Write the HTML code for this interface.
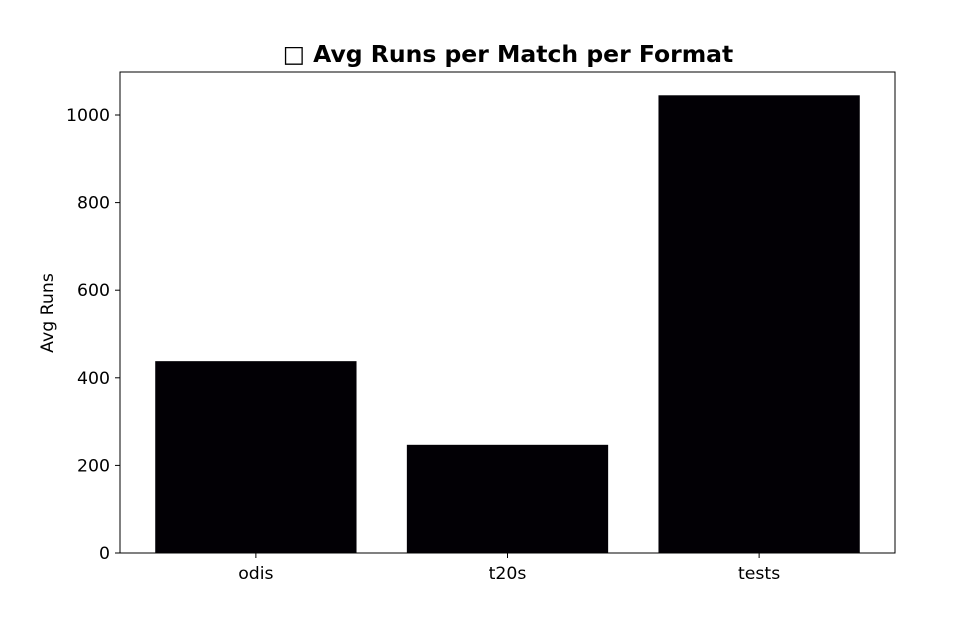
<!DOCTYPE html>
<html><head><meta charset="utf-8"><style>
body{margin:0;background:#fff}
svg{display:block;font-family:"DejaVu Sans","Liberation Sans",sans-serif}
</style></head><body>
<svg id="chart" width="971" height="622">
<text x="508" y="62" text-anchor="middle" font-size="23.5" font-weight="bold">□ Avg Runs per Match per Format</text>
<text transform="translate(53,313) rotate(-90)" text-anchor="middle" font-size="17.3">Avg Runs</text>
<g id="bars"></g><g id="yticks"></g><g id="xticks"></g>
<rect x="120" y="72" width="775" height="481" fill="none" stroke="#000" stroke-width="1"/>
</svg>
<script>
const categories=["odis","t20s","tests"];
const values=[438,247,1045];
const yTicks=[0,200,400,600,800,1000];
const L=120,R=895,T=72,B=553;
const xs=i=>L+(i+0.54)/3.08*(R-L);
const ys=v=>B-v*0.438;
const NS="http://www.w3.org/2000/svg";
const mk=(g,t,a)=>{const e=document.createElementNS(NS,t);for(const k in a)e.setAttribute(k,a[k]);document.getElementById(g).appendChild(e);return e;};
const bw=0.8/3.08*(R-L);
categories.forEach((c,i)=>{
 const r=mk("bars","rect",{x:xs(i)-bw/2,y:ys(values[i]),width:bw,height:B-ys(values[i]),fill:"#020005"});
 
 
 const tk=mk("xticks","line",{x1:xs(i),x2:xs(i),y1:B,y2:B+5,stroke:"#000"});
 
 
 const t=mk("xticks","text",{x:xs(i),y:B+26,"text-anchor":"middle","font-size":"17.3"});
 t.textContent=c;
 
 
});
yTicks.forEach(v=>{
 const tk=mk("yticks","line",{x1:L-5,x2:L,y1:ys(v),y2:ys(v),stroke:"#000"});
 
 
 const t=mk("yticks","text",{x:L-10,y:ys(v)+6,"text-anchor":"end","font-size":"17.3"});
 t.textContent=v;
 
 
});
</script>
</body></html>
